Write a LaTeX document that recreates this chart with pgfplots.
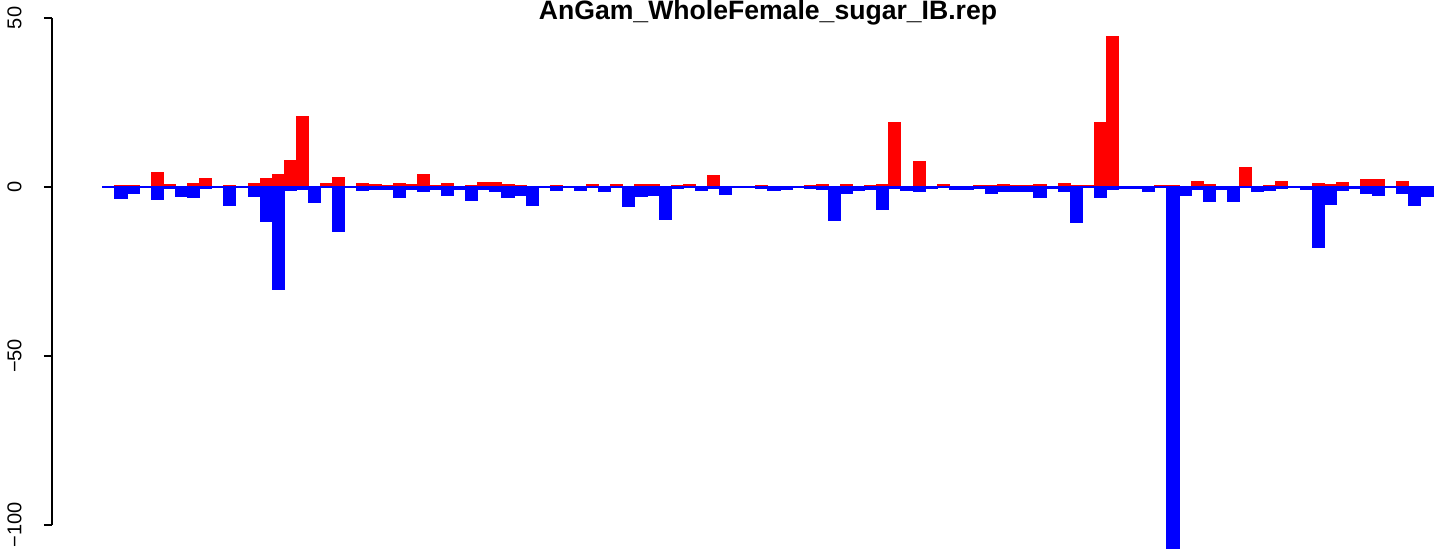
\documentclass[border=0pt]{standalone}
\usepackage{pgfplots}
\pgfplotsset{compat=1.18}
\usepackage{pgfplotstable}
\usepackage{fontspec}
\setmainfont{Liberation Sans}

% one row per bar: positive part (red), negative part (blue)
\pgfplotstableread{
i red blue
0 0 -0.1
1 0.4 -3.4
2 0.3 -1.8
3 0 -0.1
4 4.4 -3.8
5 0.7 -0.4
6 0 -2.9
7 0.9 -3.1
8 2.4 -0.4
9 0 -0.2
10 0.4 -5.6
11 0 -0.1
12 1.0 -2.9
13 2.4 -10.3
14 3.8 -30.4
15 7.7 -1.1
16 20.9 -0.8
17 0 -4.7
18 0.9 -0.2
19 2.7 -13.1
20 0 -0.2
21 0.9 -1.1
22 0.6 -0.8
23 0.3 -0.8
24 0.9 -3.2
25 0.6 -0.8
26 3.8 -1.2
27 0.3 -0.8
28 0.9 -2.6
29 0 -0.8
30 0.3 -4.1
31 1.2 -0.8
32 1.2 -1.2
33 0.6 -3.2
34 0.3 -2.6
35 0 -5.6
36 0 -0.1
37 0.3 -0.9
38 0 -0.1
39 0 -0.9
40 0.6 -0.2
41 0 -1.2
42 0.6 -0.2
43 0 -5.9
44 0.6 -2.9
45 0.6 -2.6
46 0 -9.6
47 0.3 -0.5
48 0.6 -0.2
49 0 -1.1
50 3.5 -0.3
51 0 -2.3
52 0 -0.1
53 0 -0.1
54 0.3 -0.3
55 0 -1.1
56 0 -0.8
57 0 -0.1
58 0.3 -0.5
59 0.6 -0.8
60 0 -9.9
61 0.6 -2.0
62 0 -1.1
63 0.3 -0.8
64 0.6 -6.8
65 19.2 -0.5
66 0 -1.1
67 7.5 -1.4
68 0.2 -0.5
69 0.6 -0.1
70 0 -0.8
71 0.1 -0.8
72 0.3 -0.3
73 0.3 -1.8
74 0.6 -1.4
75 0.3 -1.4
76 0.3 -1.4
77 0.6 -3.2
78 0 -0.5
79 0.9 -1.4
80 0.3 -10.4
81 0.3 -0.2
82 19.2 -3.2
83 44.6 -0.8
84 0.2 -0.5
85 0 -0.5
86 0.1 -1.4
87 0.3 -0.2
88 0.3 -107
89 0 -2.6
90 1.5 -0.8
91 0.6 -4.4
92 0 -0.8
93 0 -4.4
94 5.9 -0.2
95 0 -1.4
96 0.3 -1.1
97 1.5 -0.5
98 0 -0.1
99 0 -0.8
100 0.9 -18.0
101 0.6 -5.2
102 1.2 -1.1
103 0.1 -0.5
104 2.1 -1.8
105 2.1 -2.6
106 0 -0.2
107 1.5 -2.0
108 0.1 -5.6
109 0 -2.9
}\bardata

\begin{document}
\begin{tikzpicture}
\begin{axis}[
    scale only axis,
    width=690.5pt, height=253.5pt,
    xmin=-4.71, xmax=109.5,
    ymin=-100, ymax=50,
    clip=false,
    axis x line=none,
    axis y line*=left,
    y axis line style={line width=0.6pt},
    xtick=\empty,
    ytick={-100,-50,0,50},
    yticklabels={−100,−50,0,50},
    tick align=outside,
    major tick length=4pt,
    ytick style={line width=0.6pt, black},
    yticklabel style={rotate=90, anchor=south, inner sep=0pt,
        font=\fontsize{10}{12}\selectfont},
    yticklabel shift=11pt,
    bar width=1,
]
\addplot[ybar, bar shift=0pt, fill=red, draw=red, line width=0.5pt]
    table[x=i, y=red] {\bardata};
\addplot[ybar, bar shift=0pt, fill=blue, draw=blue, line width=0.5pt]
    table[x=i, y=blue] {\bardata};
\coordinate (sw) at (rel axis cs:0,0);
\end{axis}
\node[anchor=base, font=\bfseries\fontsize{13.3}{16}\selectfont]
    at ([xshift=358pt, yshift=252.5pt]sw) {AnGam\_WholeFemale\_sugar\_IB.rep};
\pgfresetboundingbox
\path ([xshift=-26pt, yshift=262.5pt]sw) rectangle ([xshift=694.5pt, yshift=-12pt]sw);
\end{tikzpicture}
\end{document}
